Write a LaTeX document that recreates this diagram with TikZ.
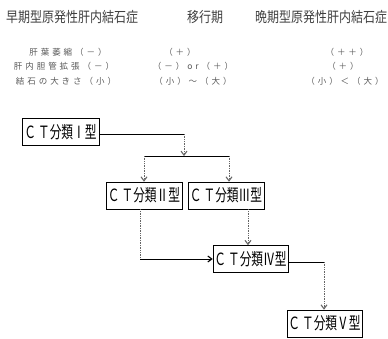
\documentclass[tikz,border=0pt]{standalone}
\usepackage{fontspec}
\setmainfont{Noto Sans CJK JP}
\newfontfamily\jp{Noto Sans CJK JP}
\newfontfamily\jpsp[LetterSpace=35]{Noto Sans CJK JP}
\usetikzlibrary{arrows.meta}
\tikzset{
  head/.style={font=\jp\fontsize{12}{12}\selectfont, text=black!75, inner sep=0pt},
  rowtxt/.style={font=\jpsp\fontsize{8.5}{8.5}\selectfont, text=black!65, inner sep=0pt},
  ctbox/.style={draw=black, line width=0.6pt, minimum height=27pt, inner sep=0pt,
    font=\jp\fontsize{13}{13}\selectfont},
  hline/.style={line width=0.7pt, black},
  vline/.style={line width=0.7pt, black!60, densely dotted},
  arr/.style={-{Straight Barb[length=4pt,width=6pt,line width=1.1pt]}, },
}
\newcommand{\ctlabel}[1]{\scalebox{0.9}[1.3]{Ｃ\,Ｔ分類#1型}}
\newcommand{\hd}[1]{\scalebox{1}[1.2]{#1}}
\begin{document}
\begin{tikzpicture}[x=1pt,y=-1pt]
\useasboundingbox (0,0) rectangle (388,338);
% header
\node[head] (h1) at (72,17) {\hd{早期型原発性肝内結石症}};
\node[head] (h2) at (205,17) {\hd{移行期}};
\node[head] (h3) at (321,17) {\hd{晩期型原発性肝内結石症}};
% rows
\node[rowtxt] (r11) at (68,52) {肝葉萎縮（－）};
\node[rowtxt] (r21) at (64,66) {肝内胆管拡張（－）};
\node[rowtxt] (r31) at (66,81) {結石の大きさ（小）};
\node[rowtxt] (r12) at (180,52) {（＋）};
\node[rowtxt] (r22) at (193,66) {（－）or（＋）};
\node[rowtxt] (r32) at (193,81) {（小）～（大）};
\node[rowtxt] (r13) at (347,52) {（＋＋）};
\node[rowtxt] (r23) at (343,66) {（＋）};
\node[rowtxt] (r33) at (345,81) {（小）＜（大）};
% boxes
\node[ctbox, minimum width=77pt] (c1) at (60.5,132) {\ctlabel{Ⅰ}};
\node[ctbox, minimum width=76pt] (c2) at (144,195.5) {\ctlabel{Ⅱ}};
\node[ctbox, minimum width=76pt] (c3) at (226,195.5) {\ctlabel{Ⅲ}};
\node[ctbox, minimum width=75pt] (c4) at (250.5,259) {\ctlabel{Ⅳ}};
\node[ctbox, minimum width=75pt] (c5) at (324.5,323.5) {\ctlabel{Ⅴ}};
% junctions
\coordinate (j1) at (184,134);
\coordinate (j2) at (184,156);
\coordinate (jl) at (144,156);
\coordinate (jr) at (229,156);
\coordinate (j3) at (140,259);
\coordinate (j4) at (324,262);
% connectors
\draw[hline] (c1.east |- j1) -- (j1);
\draw[vline, arr] (j1) -- (j2);
\draw[hline] (jl) -- (jr);
\draw[vline, arr] (jl) -- (jl |- c2.north);
\draw[vline, arr] (jr) -- (jr |- c3.north);
\draw[vline] (c2.south -| j3) -- (j3);
\draw[hline, arr] (j3) -- (c4.west);
\draw[vline, arr] (c3.south -| 248,0) -- (c4.north -| 248,0);
\draw[hline] (c4.east |- j4) -- (j4);
\draw[vline, arr] (j4) -- (c5.north -| j4);
\end{tikzpicture}
\end{document}
